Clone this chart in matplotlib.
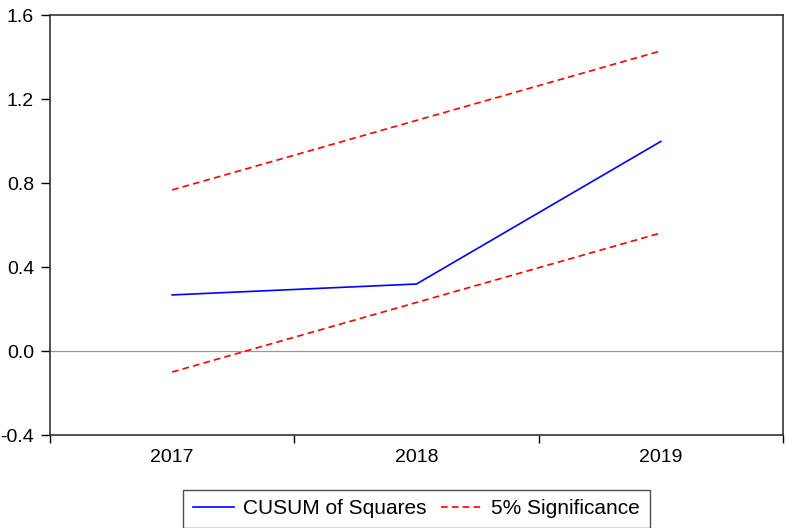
import matplotlib
matplotlib.use("Agg")
import matplotlib.pyplot as plt

plt.rcParams['font.family'] = ['Liberation Sans', 'DejaVu Sans']

years = ["2017", "2018", "2019"]
cusum_sq = [0.267, 0.319, 0.998]
upper = [0.767, 1.098, 1.429]
lower = [-0.100, 0.231, 0.562]
yticks = [-0.4, 0.0, 0.4, 0.8, 1.2, 1.6]

W, H = 787, 528
fig = plt.figure(figsize=(W/100, H/100), dpi=100)
ax = fig.add_axes([50/W, (H-435)/H, (783-50)/W, (435-15)/H])

x = list(range(len(years)))
ax.axhline(0.0, color='#999999', lw=0.9, zorder=1)
ax.plot(x, cusum_sq, color='#0000ff', lw=1.2, label='CUSUM of Squares', zorder=3)
ax.plot(x, upper, color='#ff0000', lw=1.2, ls=(0, (4, 2.5)), label='5% Significance', zorder=3)
ax.plot(x, lower, color='#ff0000', lw=1.2, ls=(0, (4, 2.5)), zorder=3)

ax.set_xlim(-0.5, len(years) - 0.5)
ax.set_ylim(-0.4, 1.6)
ax.set_yticks(yticks)
ax.set_yticklabels([f"{v:.1f}" for v in yticks], fontsize=14)
ax.set_xticks(x)
ax.set_xticklabels(years, fontsize=14)
ax.tick_params(axis='x', length=0, pad=10)
ax.tick_params(axis='y', length=6.5, width=1, direction='out', pad=5)
ax.set_xticks([i - 0.5 for i in range(len(years) + 1)], minor=True)
ax.tick_params(axis='x', which='minor', length=5.5, width=1, direction='out')

for s in ax.spines.values():
    s.set_color('#333333')
    s.set_linewidth(1.2)

leg = fig.legend(loc='upper center', bbox_to_anchor=(416.5/W, (H-490)/H), ncol=2,
                 fontsize=15, frameon=True, fancybox=False, edgecolor='#222222',
                 handlelength=2.0, columnspacing=0.67, borderpad=0.45, handletextpad=0.43,
                 borderaxespad=0)
leg.get_frame().set_linewidth(1.0)

fig.savefig("out.png", dpi=100)
